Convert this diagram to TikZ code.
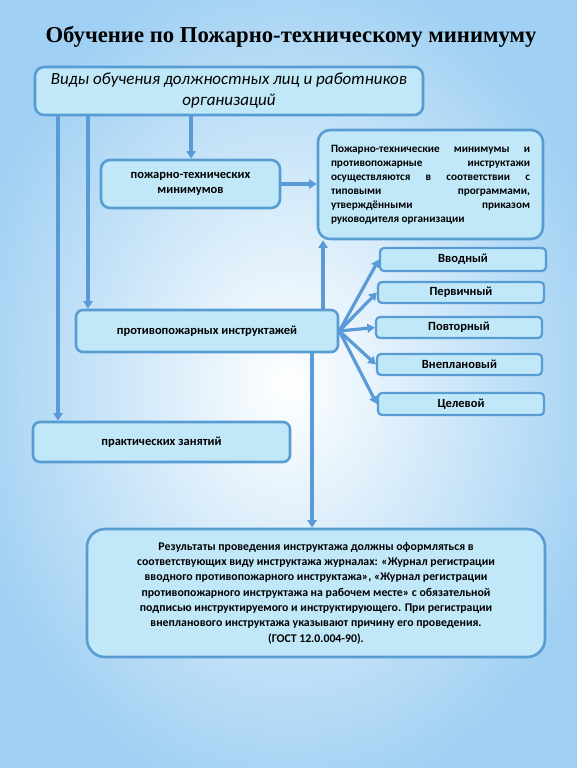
\documentclass[tikz,border=0pt]{standalone}
\usepackage{fontspec}
\setmainfont{Carlito}
\newfontfamily\titlefont{Liberation Serif}
\usetikzlibrary{arrows.meta,calc}
\definecolor{bord}{RGB}{88,156,212}
\definecolor{boxfill}{RGB}{193,232,249}
\definecolor{arrc}{RGB}{90,155,215}
\definecolor{bgedge}{RGB}{160,208,243}
\tikzset{
  box/.style={draw=bord, line width=2.6pt, fill=boxfill, rounded corners=9pt, inner sep=0pt, anchor=center},
  sbox/.style={draw=bord, line width=2.2pt, fill=boxfill, rounded corners=4pt, inner sep=0pt, anchor=center, minimum width=166pt, font=\bfseries\fontsize{12.5}{14}\selectfont},
  arr/.style={draw=arrc, line width=3.2pt, -{Triangle[width=9pt,length=7.5pt]}},
  btxt/.style={font=\bfseries\fontsize{12.5}{15}\selectfont, align=center}
}
\begin{document}
\begin{tikzpicture}[x=1pt,y=-1pt]
\useasboundingbox (0,0) rectangle (576,768);
\shade[inner color=white, outer color=bgedge] (-40,-40) rectangle (616,808);
\node[font=\titlefont\bfseries\fontsize{22.7}{26}\selectfont] (title) at (291,37) {Обучение по Пожарно-техническому минимуму};

\node[box, minimum width=388pt, minimum height=48pt, font=\itshape\fontsize{17}{21}\selectfont, align=center] (top) at (229,91) {Виды обучения должностных лиц и работников\\организаций};

\node[box, minimum width=179pt, minimum height=48pt, btxt] (pozh) at (190.5,184) {пожарно-технических\\минимумов};

\node[box, rounded corners=12pt, minimum width=225pt, minimum height=109pt, text width=199pt, align=justify, font=\bfseries\fontsize{11.2}{14}\selectfont] (prog) at (430.5,184.5) {Пожарно-технические минимумы и\linebreak противопожарные инструктажи\linebreak осуществляются в соответствии с\linebreak типовыми программами,\linebreak утверждёнными приказом\linebreak \mbox{руководителя организации}};

\node[box, rounded corners=7pt, minimum width=262pt, minimum height=42pt, btxt] (instr) at (207,331) {противопожарных инструктажей};

\node[sbox, minimum height=23pt] (v1) at (463,259.5) {Вводный};
\node[sbox, minimum height=21pt] (v2) at (461,292.5) {Первичный};
\node[sbox, minimum height=21pt] (v3) at (459,327.5) {Повторный};
\node[sbox, minimum height=21pt, minimum width=165pt] (v4) at (459.5,364.5) {Внеплановый};
\node[sbox, minimum height=22pt] (v5) at (461,404) {Целевой};

\node[box, rounded corners=7pt, minimum width=257pt, minimum height=40pt, btxt] (prac) at (161.5,442) {практических занятий};

\node[box, rounded corners=18pt, minimum width=458pt, minimum height=128pt, font=\bfseries\fontsize{11.8}{15.3}\selectfont, align=center] (res) at (316,593) {Результаты проведения инструктажа должны оформляться в\\соответствующих виду инструктажа журналах: «Журнал регистрации\\вводного противопожарного инструктажа», «Журнал регистрации\\противопожарного инструктажа на рабочем месте» с обязательной\\подписью инструктируемого и инструктирующего. При регистрации\\внепланового инструктажа указывают причину его проведения.\\(ГОСТ 12.0.004-90).};

\coordinate (xa) at (58,0);
\coordinate (xb) at (88,0);
\coordinate (xc) at (191,0);
\coordinate (xd) at (323,0);
\coordinate (xe) at (312,0);

\draw[arr] (top.south -| xa) -- (prac.north -| xa);
\draw[arr] (top.south -| xb) -- (instr.north -| xb);
\draw[arr] (top.south -| xc) -- (pozh.north -| xc);
\draw[arr] (pozh.east) -- (pozh.east -| prog.west);
\draw[arr] (instr.north -| xd) -- (prog.south -| xd);
\draw[arr] (instr.south -| xe) -- (res.north -| xe);
\foreach \t in {v1,v2,v3,v4,v5}{
  \draw[arr] (instr.east) -- (\t.west);
}
\end{tikzpicture}
\end{document}
